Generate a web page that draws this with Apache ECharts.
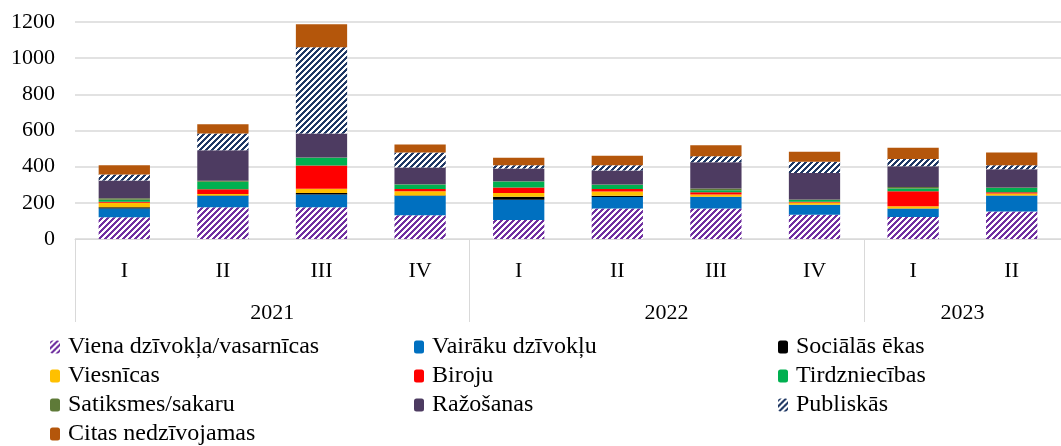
<!DOCTYPE html>
<html>
<head>
<meta charset="utf-8">
<script src="https://cdn.jsdelivr.net/npm/echarts@6/dist/echarts.min.js"></script>
<style>
  html, body { margin: 0; padding: 0; background: #fff; }
  #chart { width: 1061px; height: 446px; }
</style>
</head>
<body>
<div id="chart"></div>
<script>
// kategorijas
const quarters = ['I', 'II', 'III', 'IV', 'I', 'II', 'III', 'IV', 'I', 'II'];
const years = ['2021', '2021', '2021', '2021', '2022', '2022', '2022', '2022', '2023', '2023'];

// vērtības pa ēku veidiem
const vienaDz = [120, 176, 176, 132, 105, 169, 169, 134, 121, 152];
const vairakuDz = [48, 62, 70, 106, 112, 63, 63, 55, 46, 87];
const socialas = [7, 3, 8, 2, 17, 7, 1, 1, 1, 1];
const viesnicas = [25, 8, 24, 24, 20, 24, 13, 12, 13, 11];
const biroju = [6, 26, 129, 13, 31, 13, 13, 4, 83, 7];
const tirdzn = [11, 42, 42, 24, 33, 24, 11, 9, 15, 24];
const satiksmes = [8, 5, 2, 2, 2, 2, 9, 3, 9, 3];
const razosanas = [98, 169, 132, 92, 70, 77, 145, 147, 114, 101];
const publiskas = [33, 92, 478, 83, 18, 29, 33, 62, 41, 22];
const citas = [52, 51, 127, 44, 41, 53, 61, 55, 61, 70];

const FONT = 'Liberation Serif';

// svītrots raksts (kā Excel "wide upward diagonal")
function stripe(color) {
  const c = document.createElement('canvas');
  c.width = 6; c.height = 6;
  const ctx = c.getContext('2d');
  ctx.fillStyle = '#fff';
  ctx.fillRect(0, 0, 6, 6);
  ctx.fillStyle = color;
  for (let x = 0; x < 6; x++) {
    for (let y = 0; y < 6; y++) {
      if ((x + y) % 6 < 3) ctx.fillRect(x, y, 1, 1);
    }
  }
  return { image: c, repeat: 'repeat' };
}

const seriesDefs = [
  { name: 'Viena dzīvokļa/vasarnīcas', data: vienaDz, color: stripe('#7030a0') },
  { name: 'Vairāku dzīvokļu', data: vairakuDz, color: '#0070c0' },
  { name: 'Sociālās ēkas', data: socialas, color: '#000000' },
  { name: 'Viesnīcas', data: viesnicas, color: '#ffc000' },
  { name: 'Biroju', data: biroju, color: '#ff0000' },
  { name: 'Tirdzniecības', data: tirdzn, color: '#00b050' },
  { name: 'Satiksmes/sakaru', data: satiksmes, color: '#5e7a38' },
  { name: 'Ražošanas', data: razosanas, color: '#4d3b61' },
  { name: 'Publiskās', data: publiskas, color: stripe('#1f3864') },
  { name: 'Citas nedzīvojamas', data: citas, color: '#b4560b' }
];

// gadu grupas apakšējam līmenim
const groups = [];
years.forEach((y, i) => {
  const last = groups[groups.length - 1];
  if (!last || last.name !== y) groups.push({ name: y, start: i, end: i + 1 });
  else last.end = i + 1;
});
const bounds = [0].concat(groups.map(g => g.end));
const mids = groups.map(g => (g.start + g.end) / 2);

const chart = echarts.init(document.getElementById('chart'));

const legendCol = (names, left) => ({
  orient: 'vertical',
  left: left,
  top: 335,
  itemWidth: 10,
  itemHeight: 13,
  itemGap: 5,
  padding: 0,
  data: names,
  textStyle: { fontFamily: FONT, fontSize: 24, lineHeight: 24, color: '#000', padding: [0, 0, 0, 3] }
});

const option = {
  animation: false,
  backgroundColor: '#fff',
  grid: { left: 75, top: 22, width: 993, height: 217 },
  legend: [
    legendCol([seriesDefs[0].name, seriesDefs[3].name, seriesDefs[6].name, seriesDefs[9].name], 50),
    legendCol([seriesDefs[1].name, seriesDefs[4].name, seriesDefs[7].name], 414),
    legendCol([seriesDefs[2].name, seriesDefs[5].name, seriesDefs[8].name], 778)
  ],
  xAxis: [
    {
      type: 'category',
      data: quarters,
      position: 'bottom',
      axisLine: { lineStyle: { color: '#d9d9d9', width: 1 } },
      axisTick: { show: false },
      axisLabel: { interval: 0, margin: 21, color: '#000', fontFamily: FONT, fontSize: 22 }
    },
    {
      type: 'value',
      position: 'bottom',
      min: 0,
      max: quarters.length,
      axisLine: { show: false },
      splitLine: { show: false },
      axisTick: { show: true, customValues: bounds, length: 83, lineStyle: { color: '#d9d9d9', width: 1 } },
      axisLabel: {
        customValues: mids,
        margin: 63,
        color: '#000',
        fontFamily: FONT,
        fontSize: 22,
        formatter: v => {
          const g = groups.find(g => (g.start + g.end) / 2 === v);
          return g ? g.name : '';
        }
      }
    }
  ],
  yAxis: {
    type: 'value',
    min: 0,
    max: 1200,
    interval: 200,
    axisLine: { show: false },
    axisTick: { show: false },
    splitLine: { lineStyle: { color: '#d9d9d9', width: 1.5 } },
    axisLabel: { margin: 20, color: '#000', fontFamily: FONT, fontSize: 22, formatter: v => String(v) }
  },
  series: seriesDefs.map(s => ({
    name: s.name,
    type: 'bar',
    stack: 'total',
    xAxisIndex: 0,
    barWidth: '52%',
    data: s.data,
    itemStyle: { color: s.color }
  }))
};

chart.setOption(option);
</script>
</body>
</html>
